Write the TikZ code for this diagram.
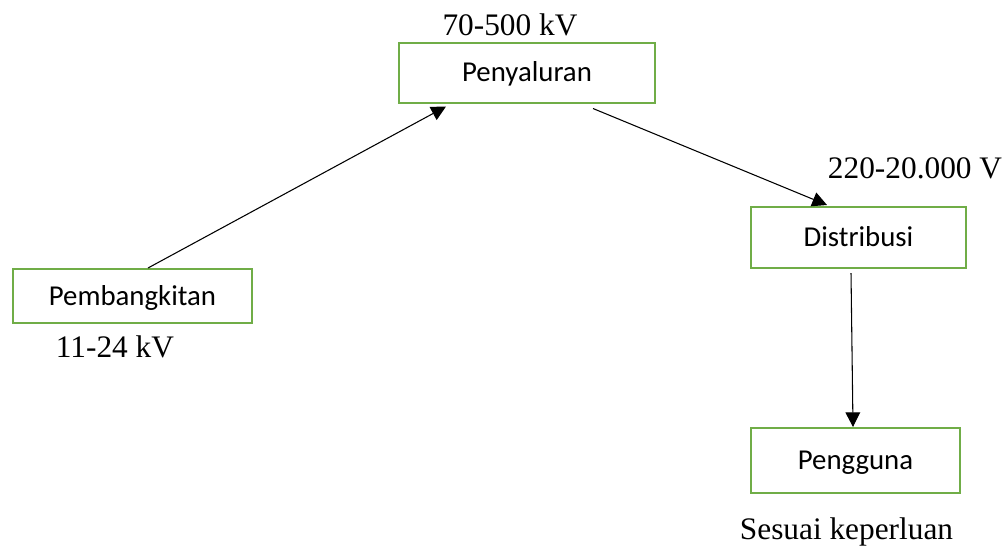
\documentclass[tikz,border=0pt]{standalone}
\usepackage{fontspec}
\setmainfont{Liberation Serif}
\newfontfamily\boxfont{Carlito}
\usepackage{xcolor}
\usetikzlibrary{arrows.meta,calc}
\definecolor{boxgreen}{RGB}{112,173,71}
\tikzset{
    stage/.style={draw=boxgreen, line width=1.5pt, inner sep=0pt,
        text height=14pt, text depth=0.5pt, font=\boxfont\fontsize{21.6}{26}\selectfont},
    volt/.style={anchor=base, inner sep=0pt, font=\fontsize{23.5}{28}\selectfont},
    flow/.style={line width=0.8pt, -{Triangle[length=11pt,width=11pt]}}
}
\begin{document}
\begin{tikzpicture}[x=0.75pt, y=-0.75pt]
        \useasboundingbox (0,0) rectangle (1005,547);
        %%Stages
        \node[stage, minimum width=256*0.75pt, minimum height=60*0.75pt] (peny) at (527,72.5) {Penyaluran};
        \node[stage, minimum width=239*0.75pt, minimum height=54*0.75pt] (pemb) at (132.5,296) {Pembangkitan};
        \node[stage, minimum width=215*0.75pt, minimum height=61*0.75pt] (dist) at (858.5,237.5) {Distribusi};
        \node[stage, minimum width=209*0.75pt, minimum height=65*0.75pt] (peng) at (855.5,460.5) {Pengguna};
        %%Voltages
        \node[volt] (vpeny) at (510,35) {70-500 kV};
        \node[volt] (vpemb) at (115,357) {11-24 kV};
        \node[volt] (vdist) at (915,178) {220-20.000 V};
        \node[volt] (vpeng) at (846.5,539) {Sesuai keperluan};
        %%Flow
        \draw[flow] ($(pemb.north)+(15.5,0)$) to ($(peny.south)+(-81,3)$);
        \draw[flow] ($(peny.south)+(66,5)$) to ($(dist.north)+(-31.5,-1)$);
        \draw[flow] ($(dist.south)+(-7.5,4)$) to ($(peng.north)+(-2.5,0)$);
    \end{tikzpicture}
\end{document}
